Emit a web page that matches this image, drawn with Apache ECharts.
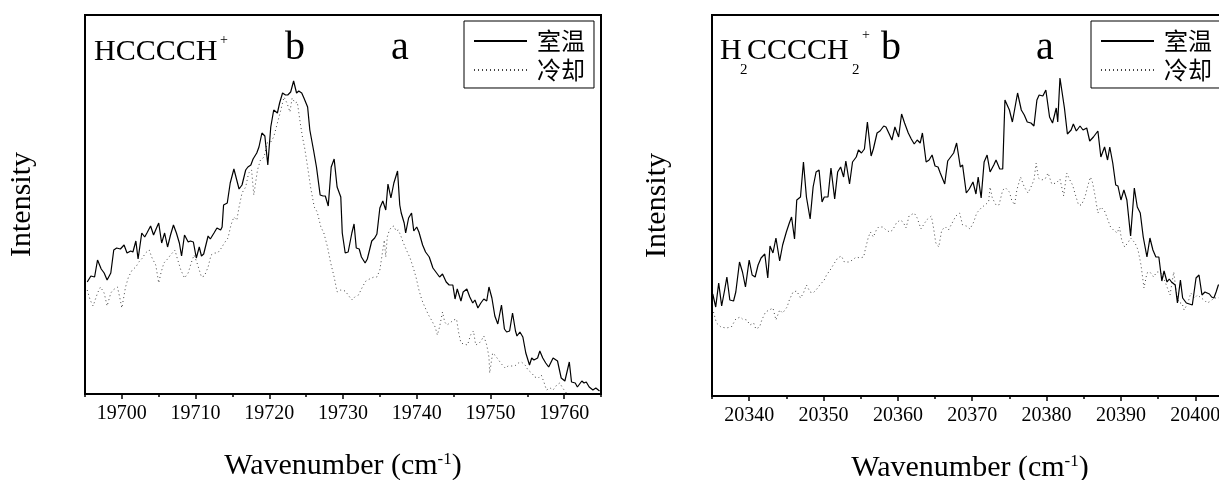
<!DOCTYPE html>
<html>
<head>
<meta charset="utf-8">
<script src="https://cdn.jsdelivr.net/npm/echarts@6/dist/echarts.min.js"></script>
<style>
  html, body { margin: 0; padding: 0; background: #fff; overflow: hidden; }
  #chart { width: 1232px; height: 480px; }
</style>
</head>
<body>
<div id="chart"></div>
<script>
// HCCCCH+ panel, room temperature (solid)
const hcRoomX = [19695.3, 19695.8, 19696.3, 19696.7, 19697.2, 19697.6, 19698.0, 19698.5, 19698.9, 19699.3, 19699.8, 19700.3, 19700.7, 19701.2, 19701.5, 19701.9, 19702.2, 19702.7, 19703.1, 19703.4, 19703.9, 19704.3, 19704.7, 19705.0, 19705.4, 19705.8, 19706.2, 19706.6, 19707.0, 19707.4, 19707.8, 19708.1, 19708.5, 19709.0, 19709.3, 19709.7, 19710.1, 19710.5, 19710.8, 19711.1, 19711.7, 19712.0, 19712.5, 19712.9, 19713.4, 19713.6, 19713.8, 19714.3, 19714.7, 19715.2, 19715.9, 19716.3, 19716.8, 19717.1, 19717.5, 19717.8, 19718.3, 19718.6, 19719.0, 19719.4, 19719.8, 19720.2, 19720.6, 19721.1, 19721.4, 19721.8, 19722.2, 19722.5, 19722.9, 19723.3, 19723.7, 19724.0, 19724.4, 19724.7, 19725.2, 19725.5, 19726.0, 19726.4, 19726.9, 19727.3, 19727.6, 19728.0, 19728.4, 19728.8, 19729.2, 19729.7, 19729.9, 19730.3, 19730.7, 19731.2, 19731.5, 19731.8, 19732.2, 19732.5, 19733.0, 19733.3, 19733.6, 19733.9, 19734.3, 19734.6, 19735.0, 19735.4, 19735.8, 19736.1, 19736.5, 19736.9, 19737.4, 19737.7, 19737.9, 19738.3, 19738.5, 19738.9, 19739.3, 19739.6, 19740.0, 19740.3, 19740.8, 19741.2, 19741.7, 19742.2, 19742.7, 19743.1, 19743.5, 19744.0, 19744.4, 19744.9, 19745.2, 19745.5, 19746.0, 19746.3, 19746.8, 19747.2, 19747.6, 19747.9, 19748.3, 19748.7, 19749.1, 19749.5, 19749.8, 19750.2, 19750.6, 19751.0, 19751.5, 19751.9, 19752.2, 19752.6, 19753.0, 19753.4, 19753.6, 19754.0, 19754.4, 19754.8, 19755.3, 19755.6, 19755.9, 19756.4, 19756.7, 19757.1, 19757.5, 19757.9, 19758.5, 19759.1, 19759.6, 19760.1, 19760.7, 19761.0, 19761.5, 19761.8, 19762.4, 19762.7, 19763.0, 19763.4, 19763.9, 19764.3, 19764.8];
const hcRoomY = [112, 118, 117, 134, 125, 121, 114, 121, 144, 146, 145, 149, 141, 143, 142, 153, 135, 161, 157, 161, 168, 159, 166, 171, 151, 161, 147, 159, 169, 161, 151, 138, 159, 152, 153, 152, 136, 147, 138, 140, 158, 155, 161, 166, 164, 167, 189, 191, 211, 225, 205, 209, 224, 227, 229, 235, 241, 247, 261, 258, 229, 267, 284, 281, 291, 301, 299, 299, 302, 313, 301, 303, 301, 296, 287, 264, 244, 227, 199, 198, 198, 188, 227, 235, 207, 197, 161, 141, 142, 161, 170, 146, 145, 137, 131, 135, 144, 153, 156, 160, 186, 193, 184, 210, 196, 211, 223, 189, 181, 171, 161, 176, 181, 163, 167, 162, 149, 142, 137, 126, 121, 117, 120, 112, 109, 109, 95, 105, 93, 102, 105, 97, 91, 94, 86, 91, 95, 93, 107, 96, 78, 70, 89, 65, 62, 63, 81, 63, 58, 62, 57, 41, 29, 36, 34, 36, 43, 36, 31, 27, 36, 33, 16, 13, 32, 12, 11, 7, 13, 11, 12, 7, 4, 6, 3];

// HCCCCH+ panel, cooled (dotted)
const hcCoolX = [19695.3, 19695.7, 19696.1, 19696.7, 19697.1, 19697.6, 19698.0, 19698.5, 19698.8, 19699.4, 19699.7, 19700.0, 19700.5, 19700.9, 19701.4, 19701.9, 19702.3, 19702.8, 19703.2, 19703.7, 19704.1, 19704.6, 19705.0, 19705.3, 19705.7, 19706.2, 19706.6, 19707.2, 19707.5, 19708.0, 19708.5, 19709.0, 19709.4, 19709.8, 19710.2, 19710.8, 19711.2, 19711.7, 19712.1, 19712.6, 19713.0, 19713.5, 19713.9, 19714.4, 19714.8, 19715.2, 19715.6, 19715.9, 19716.3, 19716.8, 19717.2, 19717.6, 19717.9, 19718.4, 19718.8, 19719.3, 19719.7, 19720.2, 19720.6, 19721.1, 19721.5, 19722.0, 19722.4, 19722.8, 19723.1, 19723.5, 19723.8, 19724.2, 19724.5, 19724.8, 19725.2, 19725.6, 19726.1, 19726.5, 19727.0, 19727.4, 19727.9, 19728.3, 19728.8, 19729.2, 19729.7, 19730.3, 19730.7, 19731.2, 19731.6, 19732.1, 19732.7, 19733.1, 19733.6, 19734.2, 19734.6, 19735.0, 19735.4, 19735.6, 19735.8, 19736.0, 19736.3, 19736.6, 19736.9, 19737.2, 19737.5, 19737.8, 19738.2, 19738.6, 19739.1, 19739.5, 19739.9, 19740.3, 19740.7, 19741.1, 19741.6, 19742.0, 19742.5, 19742.8, 19743.1, 19743.5, 19743.8, 19744.1, 19744.5, 19745.0, 19745.4, 19745.7, 19746.0, 19746.4, 19746.9, 19747.3, 19747.7, 19748.0, 19748.5, 19748.8, 19749.1, 19749.5, 19749.8, 19749.9, 19750.3, 19750.6, 19751.1, 19751.5, 19752.0, 19752.4, 19752.9, 19753.3, 19753.8, 19754.2, 19754.7, 19755.1, 19755.6, 19756.0, 19756.5, 19756.9, 19757.3, 19757.6, 19758.1, 19758.5, 19759.0, 19759.4, 19759.8, 19760.3];
const hcCoolY = [104, 94, 88, 101, 107, 101, 88, 101, 104, 107, 97, 86, 107, 117, 124, 127, 132, 136, 141, 144, 136, 129, 111, 121, 131, 135, 139, 144, 136, 124, 116, 121, 131, 139, 131, 117, 118, 127, 139, 141, 141, 146, 151, 156, 169, 177, 174, 187, 201, 207, 221, 224, 199, 224, 234, 237, 251, 252, 257, 271, 282, 297, 291, 282, 296, 291, 292, 271, 257, 246, 227, 207, 187, 182, 167, 161, 147, 132, 117, 102, 104, 103, 99, 94, 97, 99, 108, 113, 115, 117, 117, 124, 144, 154, 137, 157, 164, 167, 168, 163, 164, 159, 151, 144, 136, 127, 117, 104, 94, 87, 79, 74, 67, 59, 67, 82, 72, 69, 71, 74, 75, 61, 51, 50, 49, 59, 63, 49, 51, 54, 58, 49, 37, 21, 41, 39, 34, 30, 26, 28, 28, 28, 31, 32, 29, 24, 21, 17, 16, 19, 11, 4, 6, 4, 9, 11, 6, 1];

// H2CCCCH2+ panel, room temperature (solid)
const h2RoomX = [20335.1, 20335.5, 20335.9, 20336.3, 20336.7, 20337.0, 20337.4, 20337.9, 20338.2, 20338.7, 20339.1, 20339.5, 20340.0, 20340.4, 20340.8, 20341.2, 20341.6, 20342.1, 20342.5, 20342.8, 20343.2, 20343.6, 20344.1, 20344.5, 20345.0, 20345.4, 20345.7, 20346.1, 20346.4, 20346.9, 20347.3, 20347.7, 20348.2, 20348.6, 20349.0, 20349.4, 20349.8, 20350.1, 20350.6, 20351.0, 20351.5, 20351.9, 20352.3, 20352.7, 20353.0, 20353.5, 20353.9, 20354.4, 20354.7, 20355.1, 20355.5, 20355.9, 20356.4, 20356.7, 20357.2, 20357.6, 20358.1, 20358.4, 20358.9, 20359.2, 20359.6, 20360.1, 20360.5, 20360.9, 20361.4, 20361.8, 20362.2, 20362.6, 20363.0, 20363.3, 20363.8, 20364.2, 20364.6, 20365.0, 20365.4, 20365.7, 20366.3, 20366.7, 20367.1, 20367.5, 20367.9, 20368.4, 20368.7, 20369.2, 20369.6, 20370.1, 20370.5, 20370.8, 20371.2, 20371.6, 20372.0, 20372.4, 20372.9, 20373.2, 20373.7, 20374.1, 20374.4, 20375.0, 20375.4, 20376.1, 20376.6, 20377.0, 20377.4, 20377.9, 20378.3, 20378.7, 20379.0, 20379.5, 20379.9, 20380.4, 20380.8, 20381.3, 20381.5, 20381.8, 20382.4, 20382.8, 20383.3, 20383.6, 20384.0, 20384.5, 20384.9, 20385.4, 20385.8, 20386.3, 20386.9, 20387.3, 20387.8, 20388.2, 20388.5, 20388.9, 20389.3, 20389.6, 20390.0, 20390.4, 20390.8, 20391.3, 20391.8, 20392.2, 20392.6, 20393.0, 20393.5, 20393.9, 20394.3, 20394.7, 20395.1, 20395.5, 20395.8, 20396.2, 20396.5, 20396.8, 20397.3, 20397.6, 20398.0, 20398.3, 20398.8, 20399.6, 20400.1, 20400.5, 20400.9, 20401.3, 20401.9, 20402.2, 20402.5, 20402.8, 20403.1, 20404.0];
const h2RoomY = [102, 89, 113, 90, 106, 119, 96, 95, 104, 134, 124, 109, 136, 121, 119, 131, 138, 142, 118, 150, 143, 158, 135, 151, 164, 173, 179, 157, 196, 199, 234, 199, 177, 209, 224, 226, 194, 199, 199, 228, 197, 224, 229, 219, 235, 212, 234, 239, 246, 243, 247, 274, 240, 247, 263, 265, 270, 269, 261, 256, 269, 259, 282, 273, 263, 257, 252, 256, 253, 263, 234, 236, 241, 230, 229, 223, 212, 235, 239, 243, 253, 229, 231, 203, 207, 214, 202, 219, 198, 234, 241, 224, 231, 236, 227, 227, 296, 286, 274, 303, 286, 281, 274, 273, 270, 296, 301, 300, 306, 279, 273, 288, 274, 318, 288, 262, 266, 272, 265, 270, 266, 268, 255, 259, 265, 239, 249, 236, 249, 233, 211, 210, 196, 206, 196, 160, 208, 189, 183, 159, 139, 158, 146, 139, 139, 115, 125, 114, 117, 114, 111, 93, 116, 98, 93, 91, 118, 121, 101, 104, 102, 99, 98, 104, 111, 112];

// H2CCCCH2+ panel, cooled (dotted)
const h2CoolX = [20335.2, 20335.6, 20336.2, 20336.9, 20337.6, 20338.2, 20338.8, 20339.1, 20339.7, 20340.1, 20340.6, 20340.9, 20341.4, 20341.7, 20342.2, 20342.7, 20343.2, 20343.6, 20344.1, 20344.5, 20345.1, 20345.4, 20345.9, 20346.4, 20346.9, 20347.3, 20347.7, 20348.2, 20348.6, 20349.1, 20349.5, 20350.1, 20350.4, 20350.9, 20351.3, 20351.9, 20352.4, 20352.8, 20353.4, 20353.9, 20354.4, 20354.9, 20355.4, 20355.6, 20356.0, 20356.3, 20356.7, 20357.1, 20357.4, 20358.0, 20358.4, 20358.9, 20359.3, 20359.8, 20360.3, 20360.7, 20361.1, 20361.5, 20362.2, 20362.6, 20363.1, 20363.6, 20364.0, 20364.5, 20364.8, 20365.1, 20365.5, 20365.9, 20366.4, 20366.8, 20367.3, 20367.8, 20368.3, 20368.7, 20369.2, 20369.7, 20370.2, 20370.6, 20371.2, 20371.7, 20372.2, 20372.4, 20372.7, 20373.2, 20373.6, 20374.1, 20374.5, 20375.0, 20375.3, 20375.7, 20376.0, 20376.5, 20377.0, 20377.5, 20377.9, 20378.3, 20378.6, 20378.9, 20379.3, 20379.8, 20380.2, 20380.7, 20381.3, 20381.8, 20382.3, 20382.7, 20383.2, 20383.5, 20383.8, 20384.3, 20384.7, 20385.2, 20385.5, 20385.9, 20386.2, 20386.5, 20386.9, 20387.3, 20387.8, 20388.1, 20388.6, 20389.0, 20389.5, 20389.8, 20390.1, 20390.5, 20391.0, 20391.3, 20391.9, 20392.3, 20392.7, 20393.1, 20393.5, 20393.9, 20394.4, 20394.8, 20395.3, 20395.7, 20396.2, 20396.6, 20397.1, 20397.4, 20397.8, 20398.2, 20398.5, 20399.0, 20399.4, 20399.9, 20400.3, 20400.8, 20401.2, 20401.6, 20402.1, 20402.5, 20403.0, 20404.0];
const h2CoolY = [84, 73, 69, 68, 69, 77, 79, 77, 76, 71, 73, 67, 69, 76, 84, 86, 88, 76, 86, 83, 89, 96, 104, 105, 98, 103, 111, 104, 103, 107, 111, 116, 121, 126, 131, 138, 140, 134, 134, 136, 139, 138, 139, 146, 158, 164, 159, 166, 169, 169, 166, 164, 166, 173, 176, 174, 168, 180, 183, 178, 167, 173, 177, 180, 168, 153, 149, 166, 169, 166, 173, 180, 183, 171, 170, 167, 174, 183, 188, 191, 194, 209, 198, 191, 191, 206, 208, 204, 196, 191, 206, 219, 209, 203, 209, 216, 233, 218, 216, 217, 223, 212, 213, 217, 200, 223, 215, 211, 203, 191, 191, 200, 209, 219, 213, 201, 183, 189, 185, 179, 169, 166, 163, 169, 156, 149, 154, 158, 153, 146, 131, 108, 123, 124, 119, 124, 124, 119, 109, 101, 124, 106, 93, 93, 86, 93, 103, 98, 101, 98, 96, 93, 95, 98, 98, 100];

const seriesNames = ['室温', '冷却'];
const hcMajorTicks = [19700, 19710, 19720, 19730, 19740, 19750, 19760];
const hcMinorTicks = [19695, 19705, 19715, 19725, 19735, 19745, 19755, 19765];
const h2MajorTicks = [20340, 20350, 20360, 20370, 20380, 20390, 20400];
const h2MinorTicks = [20335, 20345, 20355, 20365, 20375, 20385, 20395];

const zip = (xs, ys) => xs.map((x, i) => [x, ys[i]]);

const serif = 'Liberation Serif';
const axisNameRich = {
  t: { fontFamily: serif, fontSize: 30, color: '#000' },
  s: { fontFamily: serif, fontSize: 17, color: '#000', verticalAlign: 'top' },
};

function mainXAxis(gridIndex, min, max, ticks) {
  return {
    gridIndex: gridIndex,
    type: 'value',
    position: 'bottom',
    min: min,
    max: max,
    axisLine: { show: false },
    splitLine: { show: false },
    axisTick: { show: true, customValues: ticks, length: 5, lineStyle: { color: '#000', width: 1.5 } },
    axisLabel: {
      customValues: ticks,
      margin: 10,
      fontFamily: serif,
      fontSize: 20,
      color: '#000',
      formatter: (v) => String(v), // no thousands separator
    },
    name: '{t|Wavenumber (cm}{s|-1}{t|)}',
    nameLocation: 'middle',
    nameGap: 57,
    nameTextStyle: { rich: axisNameRich },
  };
}

// second x axis only carries the short ticks at the half decades
function minorXAxis(gridIndex, min, max, ticks, height) {
  return {
    gridIndex: gridIndex,
    type: 'value',
    position: 'top',
    offset: -height,
    min: min,
    max: max,
    axisLine: { show: false },
    splitLine: { show: false },
    axisTick: { show: true, inside: true, customValues: ticks, length: 3, lineStyle: { color: '#000', width: 1.5 } },
    axisLabel: { show: false },
  };
}

function yAxisOf(gridIndex, max, gap) {
  return {
    gridIndex: gridIndex,
    type: 'value',
    min: 0,
    max: max,
    axisLine: { show: false },
    axisTick: { show: false },
    axisLabel: { show: false },
    splitLine: { show: false },
    name: 'Intensity',
    nameLocation: 'middle',
    nameGap: gap,
    nameTextStyle: { fontFamily: serif, fontSize: 30, color: '#000' },
  };
}

function legendAt(left) {
  return {
    left: left,
    top: 21,
    orient: 'vertical',
    data: seriesNames,
    itemWidth: 53,
    itemHeight: 14,
    itemGap: 5,
    padding: [8, 9, 6, 9],
    borderColor: '#000',
    borderWidth: 1,
    itemStyle: { opacity: 0 }, // line only, no marker
    textStyle: { fontFamily: 'Noto Sans CJK SC', fontSize: 24, color: '#000', padding: [0, 0, 0, 5] },
  };
}

const roomStyle = { color: '#000', width: 1.2 };
const coolStyle = { color: '#444', width: 1, type: [1, 3] };

function lineSeries(name, data, axisIndex, style) {
  return {
    name: name,
    type: 'line',
    xAxisIndex: axisIndex,
    yAxisIndex: axisIndex === 0 ? 0 : 1,
    data: data,
    symbol: 'none',
    lineStyle: style,
    itemStyle: { color: style.color },
  };
}

function label(text, x, y, size, align) {
  return {
    type: 'text',
    x: x,
    y: y,
    style: {
      text: text,
      font: size + 'px "Liberation Serif"',
      fill: '#000',
      textAlign: align || 'left',
      textVerticalAlign: 'middle',
    },
  };
}

function gridAt(left, height) {
  return {
    left: left,
    top: 15,
    width: 516,
    height: height,
    outerBoundsMode: 'none', // keep the frame where it is, names may hang outside
    containLabel: false,
    show: true,
    borderColor: '#000',
    borderWidth: 2,
    backgroundColor: 'transparent',
  };
}

const chart = echarts.init(document.getElementById('chart'));

const option = {
  animation: false,
  backgroundColor: '#fff',
  grid: [gridAt(85, 379), gridAt(712, 381)],
  xAxis: [
    mainXAxis(0, 19695, 19765, hcMajorTicks),
    mainXAxis(1, 20335, 20404.4, h2MajorTicks),
    minorXAxis(0, 19695, 19765, hcMinorTicks, 379),
    minorXAxis(1, 20335, 20404.4, h2MinorTicks, 381),
  ],
  yAxis: [yAxisOf(0, 379, 48), yAxisOf(1, 381, 40)],
  legend: [legendAt(464), legendAt(1091)],
  series: [
    lineSeries(seriesNames[1], zip(hcCoolX, hcCoolY), 0, coolStyle),
    lineSeries(seriesNames[0], zip(hcRoomX, hcRoomY), 0, roomStyle),
    lineSeries(seriesNames[1], zip(h2CoolX, h2CoolY), 1, coolStyle),
    lineSeries(seriesNames[0], zip(h2RoomX, h2RoomY), 1, roomStyle),
  ],
  graphic: [
    label('HCCCCH', 94, 52, 30),
    label('+', 220, 40, 14),
    label('b', 295, 48, 40, 'center'),
    label('a', 400, 48, 40, 'center'),
    label('H', 720, 51, 30),
    label('2', 740, 70, 15),
    label('CCCCH', 747, 51, 30),
    label('2', 852, 70, 15),
    label('+', 862, 35, 14),
    label('b', 891, 48, 40, 'center'),
    label('a', 1045, 48, 40, 'center'),
  ],
};

chart.setOption(option);
</script>
</body>
</html>
